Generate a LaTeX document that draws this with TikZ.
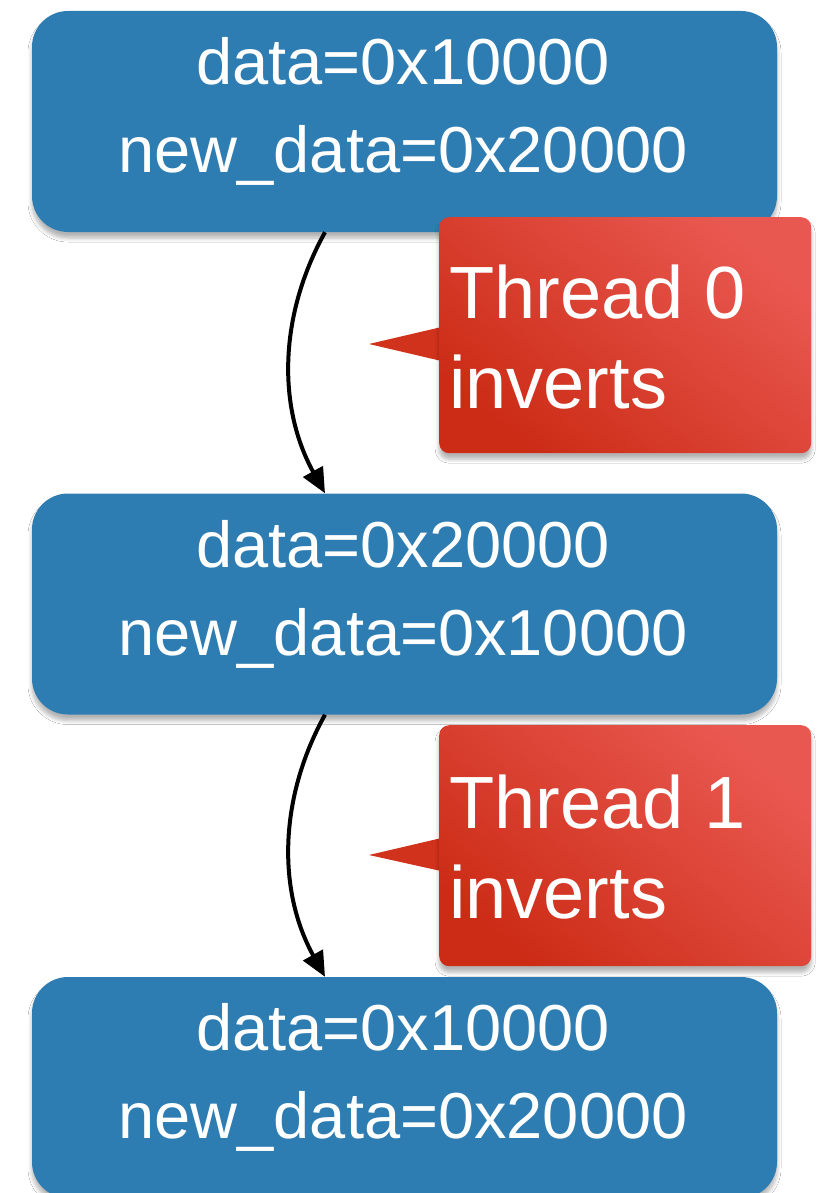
\documentclass[tikz,border=0pt]{standalone}
\usepackage{fontspec}
\setmainfont{Liberation Sans}
\usetikzlibrary{arrows.meta,shadows.blur}
\definecolor{boxblue}{RGB}{46,125,178}
\definecolor{redlight}{RGB}{233,88,80}
\definecolor{reddark}{RGB}{204,44,22}
\definecolor{redtip}{RGB}{208,50,28}
\tikzset{
  soft/.style={blur shadow={shadow blur steps=6, shadow xshift=0pt, shadow yshift=-6pt,
      shadow blur radius=4pt, shadow opacity=30}},
  statebox/.style={soft, fill=boxblue, draw=none, rounded corners=36pt, inner sep=0pt,
      minimum width=745pt, minimum height=221pt},
  statetext/.style={anchor=base, text=white, inner sep=0pt, font=\fontsize{65}{88}\selectfont},
  callout/.style={soft, draw=none, rounded corners=10pt, inner sep=0pt, anchor=north west,
      minimum width=372pt, top color=redlight, bottom color=reddark, shading angle=-40},
  callouttext/.style={anchor=base west, text=white, inner sep=0pt, font=\fontsize{74}{90}\selectfont},
  pointer/.style={fill=redtip, draw=none},
  flow/.style={line width=4pt, -{Triangle[length=25pt,width=22pt]}}
}
\begin{document}
\begin{tikzpicture}[x=1pt,y=-1pt]
  \useasboundingbox (0,0) rectangle (821,1193);
  \clip (0,0) rectangle (821,1193);
  \fill[white] (0,0) rectangle (821,1193);

  % the three states of the two pointers
  \node[statebox] (s0) at (404.5,121.5) {};
  \node[statetext] (s0a) at (403,85) {data=0x10000};
  \node[statetext] (s0b) at (403,173) {new\_data=0x20000};

  \node[statebox] (s1) at (404.5,604) {};
  \node[statetext] (s1a) at (403,567) {data=0x20000};
  \node[statetext] (s1b) at (403,655) {new\_data=0x10000};

  \node[statebox] (s2) at (404.5,1087.5) {};
  \node[statetext] (s2a) at (403,1050) {data=0x10000};
  \node[statetext] (s2b) at (403,1138) {new\_data=0x20000};

  % transitions between the states
  \coordinate (ax) at (325,0);
  \draw[flow] (s0.south -| ax) .. controls +(-47,85) and +(-47,-85) .. (s1.north -| ax);
  \draw[flow] (s1.south -| ax) .. controls +(-47,85) and +(-47,-85) .. (s2.north -| ax);

  % speech-bubble labels
  \fill[pointer] (369,344) -- (450,325) -- (450,363) -- cycle;
  \node[callout, minimum height=236pt] (c0) at (439,217) {};
  \node[callouttext] (c0a) at (449,318) {Thread 0};
  \node[callouttext] (c0b) at (449,408) {inverts};

  \fill[pointer] (369,855) -- (450,836) -- (450,873) -- cycle;
  \node[callout, minimum height=241pt] (c1) at (439,725) {};
  \node[callouttext] (c1a) at (449,828) {Thread 1};
  \node[callouttext] (c1b) at (449,918) {inverts};
\end{tikzpicture}
\end{document}
